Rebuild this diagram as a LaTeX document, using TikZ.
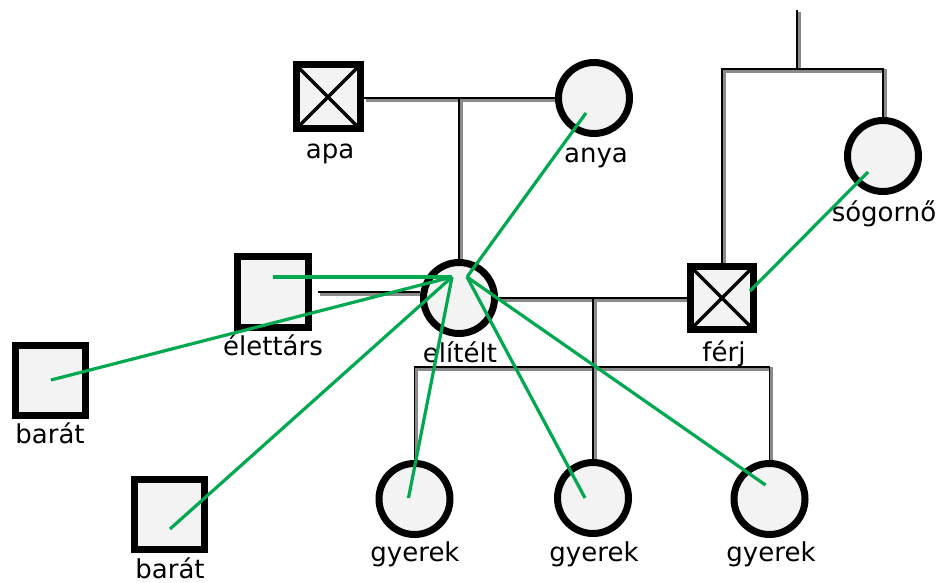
\documentclass[tikz,border=0pt]{standalone}
\usepackage{fontspec}
\setmainfont{DejaVu Sans}
\definecolor{nodefill}{HTML}{F3F3F3}
\definecolor{tiegreen}{HTML}{00A94F}
\definecolor{shadowgray}{HTML}{8A8A8A}
\pgfdeclarelayer{bg}
\pgfsetlayers{bg,main}
\tikzset{
  male/.style={draw=black, line width=7pt, fill=nodefill, rectangle, minimum size=#1, inner sep=0pt},
  female/.style={draw=black, line width=7pt, fill=nodefill, circle, minimum size=71pt, inner sep=0pt},
  dead/.style={path picture={\draw[line width=3.5pt] (path picture bounding box.north west) -- (path picture bounding box.south east) (path picture bounding box.north east) -- (path picture bounding box.south west);}},
  rel/.style={draw=black, line width=1.8pt},
  relshadow/.style={draw=shadowgray, line width=3.2pt, transform canvas={shift={(2pt,-2pt)}}},
  tie/.style={draw=tiegreen, line width=3.2pt},
  lbl/.style={anchor=base, inner sep=0pt, font=\fontsize{26}{31}\selectfont}
}
\newcommand\relline[1]{\draw[relshadow] #1; \draw[rel] #1;}
\begin{document}
\begin{tikzpicture}[x=1pt,y=-1pt]
\useasboundingbox (0,0) rectangle (942,583);
% people
\node[male=64pt, dead] (apa) at (328,97) {};
\node[female] (anya) at (594,98) {};
\node[female] (sogorno) at (883,156) {};
\node[male=71pt] (elettars) at (273,292) {};
\node[female] (elitelt) at (459,298) {};
\node[male=63pt, dead] (ferj) at (722,298) {};
\node[male=70pt] (barat1) at (50,380) {};
\node[male=70pt] (barat2) at (169,514) {};
\node[female] (gyerek1) at (414.5,499) {};
\node[female] (gyerek2) at (593,498) {};
\node[female] (gyerek3) at (769.5,499) {};
% labels
\node[lbl] (apaL) at (330,158) {apa};
\node[lbl] (anyaL) at (596,162) {anya};
\node[lbl] (sogornoL) at (884,221) {sógornő};
\node[lbl] (elettarsL) at (273,355) {élettárs};
\node[lbl] (elteltL) at (460,362) {elítélt};
\node[lbl] (ferjL) at (724,361) {férj};
\node[lbl] (barat1L) at (50,443) {barát};
\node[lbl] (barat2L) at (170,578) {barát};
\node[lbl] (gyerek1L) at (415,561) {gyerek};
\node[lbl] (gyerek2L) at (594,561) {gyerek};
\node[lbl] (gyerek3L) at (771,561) {gyerek};
% junction points
\coordinate (m1) at (459,98);
\coordinate (top) at (797,10);
\coordinate (tj) at (797,69);
\coordinate (m2) at (593,298);
\coordinate (kj) at (593,367);
\begin{pgfonlayer}{bg}
\fill[white] (0,0) rectangle (942,583);
\relline{(apa.east |- anya) -- (anya.west)}
\relline{(m1) -- (elitelt.north)}
\relline{(top) -- (tj)}
\relline{(ferj.north) |- (tj) -| (sogorno.north)}
\relline{([xshift=6pt]elettars.east) -- (elitelt.west |- elettars.east)}
\relline{(elitelt.east) -- (ferj.west)}
\relline{(m2) -- (kj)}
\relline{(gyerek1.north) |- (kj) -| (gyerek3.north)}
\relline{(kj) -- (gyerek2.north)}
\end{pgfonlayer}
% emotional ties
\coordinate (cL) at ([shift={(-7,-21)}]elitelt.center);
\coordinate (cR) at ([shift={(8,-21)}]elitelt.center);
\draw[tie] ([shift={(-8,15)}]anya.center) -- (cR);
\draw[tie] ([shift={(-15,16)}]sogorno.center) -- ([shift={(28,-7)}]ferj.center);
\draw[tie] ([shift={(0,-15)}]elettars.center) -- (cL);
\draw[tie] ([shift={(1,0)}]barat1.center) -- (cL);
\draw[tie] ([shift={(1,15)}]barat2.center) -- (cL);
\draw[tie] ([shift={(-6,-1)}]gyerek1.center) -- (cL);
\draw[tie] ([shift={(-8,0)}]gyerek2.center) -- (cR);
\draw[tie] ([shift={(-4,-14)}]gyerek3.center) -- (cR);
\end{tikzpicture}
\end{document}
